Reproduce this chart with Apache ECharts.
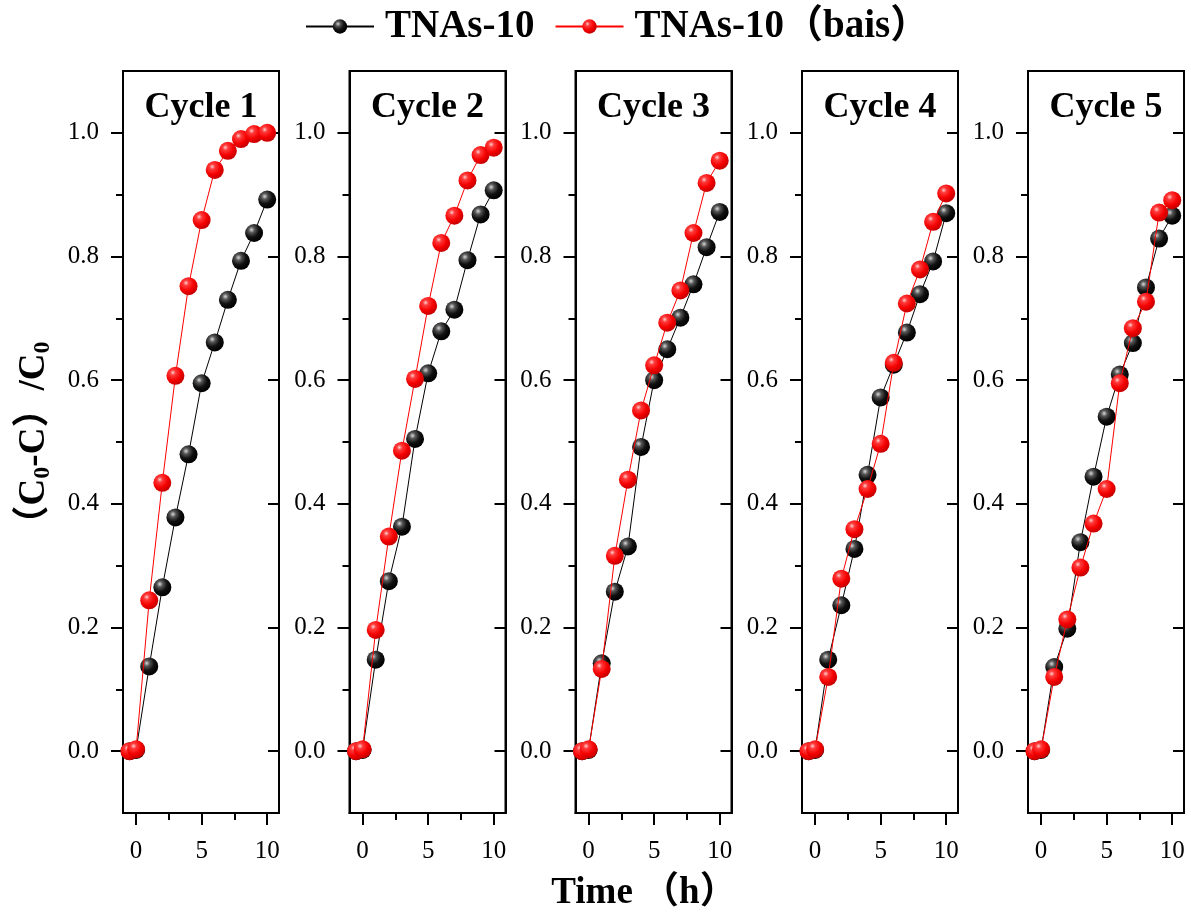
<!DOCTYPE html>
<html>
<head>
<meta charset="utf-8">
<script src="https://cdn.jsdelivr.net/npm/echarts@6/dist/echarts.min.js"></script>
<style>html,body{margin:0;padding:0;background:#fff;}#c{width:1191px;height:912px;}</style>
</head>
<body>
<div id="c"></div>
<script>
const cycleNames = ['Cycle 1', 'Cycle 2', 'Cycle 3', 'Cycle 4', 'Cycle 5'];
const timeH = [-0.5, 0, 1, 2, 3, 4, 5, 6, 7, 8, 9, 10];
const tnas1 = [0, 0.002, 0.137, 0.265, 0.378, 0.480, 0.595, 0.661, 0.730, 0.793, 0.838, 0.892];
const bais1 = [0, 0.003, 0.244, 0.434, 0.607, 0.752, 0.859, 0.940, 0.971, 0.990, 0.998, 1.000];
const tnas2 = [0, 0.002, 0.148, 0.275, 0.363, 0.505, 0.611, 0.679, 0.714, 0.794, 0.868, 0.907];
const bais2 = [0, 0.003, 0.196, 0.347, 0.486, 0.602, 0.720, 0.822, 0.866, 0.923, 0.964, 0.976];
const tnas3 = [0, 0.002, 0.142, 0.258, 0.331, 0.492, 0.600, 0.650, 0.701, 0.755, 0.815, 0.872];
const bais3 = [0, 0.003, 0.133, 0.316, 0.439, 0.551, 0.624, 0.693, 0.745, 0.838, 0.919, 0.955];
const tnas4 = [0, 0.002, 0.148, 0.236, 0.327, 0.447, 0.572, 0.625, 0.677, 0.739, 0.792, 0.870];
const bais4 = [0, 0.003, 0.120, 0.279, 0.359, 0.424, 0.497, 0.628, 0.724, 0.779, 0.856, 0.902];
const tnas5 = [0, 0.002, 0.136, 0.198, 0.338, 0.444, 0.541, 0.609, 0.660, 0.750, 0.829, 0.866];
const bais5 = [0, 0.003, 0.120, 0.213, 0.297, 0.368, 0.424, 0.595, 0.684, 0.727, 0.871, 0.891];
const xMajorTicks = [0, 5, 10];
const xMinorTicks = [2.5, 7.5];
const yMajorTicks = [0, 0.2, 0.4, 0.6, 0.8, 1.0];
const yMinorTicks = [0.1, 0.3, 0.5, 0.7, 0.9];
const seriesNames = ['TNAs-10', 'TNAs-10（bais）'];

const tnasAll = [tnas1, tnas2, tnas3, tnas4, tnas5];
const baisAll = [bais1, bais2, bais3, bais4, bais5];

const SERIF = "'Liberation Serif','Noto Sans CJK SC',serif";
const gridLefts = [123, 349.5, 575.5, 802, 1028];
const gridW = 156, gridTop = 71, gridH = 742;

const blackBall = {type:'radial', x:0.36, y:0.32, r:0.68, colorStops:[
  {offset:0, color:'#d8d8d8'}, {offset:0.25, color:'#555'}, {offset:0.6, color:'#111'}, {offset:1, color:'#000'}]};
const redBall = {type:'radial', x:0.36, y:0.32, r:0.68, colorStops:[
  {offset:0, color:'#ffd0d0'}, {offset:0.22, color:'#ff3b3b'}, {offset:0.65, color:'#f40000'}, {offset:1, color:'#c80000'}]};

const grids = [], xAxes = [], yAxes = [], series = [], graphics = [];
const axLine = {show:true, onZero:false, lineStyle:{color:'#000', width:2}};
for (let i = 0; i < 5; i++) {
  grids.push({left: gridLefts[i], top: gridTop, width: gridW, height: gridH,
    show: true, borderColor: '#000', borderWidth: 2, backgroundColor: 'transparent'});
  xAxes.push({gridIndex:i, type:'value', min:-1, max:10.9, position:'bottom',
    axisLine: axLine,
    axisTick:{show:true, customValues:xMajorTicks, length:12, inside:false, lineStyle:{color:'#000', width:2}},
    axisLabel:{show:true, customValues:xMajorTicks, margin:26, color:'#000', fontFamily:SERIF, fontSize:25},
    splitLine:{show:false}});
  xAxes.push({gridIndex:i, type:'value', min:-1, max:10.9, position:'bottom',
    axisLine:{show:false, onZero:false},
    axisTick:{show:true, customValues:xMinorTicks, length:7, lineStyle:{color:'#000', width:2}},
    axisLabel:{show:false}, splitLine:{show:false}});
  yAxes.push({gridIndex:i, type:'value', min:-0.1, max:1.1, position:'left',
    axisLine: axLine,
    axisTick:{show:true, customValues:yMajorTicks, length:12, lineStyle:{color:'#000', width:2}},
    axisLabel:{show:true, customValues:yMajorTicks, margin:24, color:'#000', fontFamily:SERIF, fontSize:25,
      formatter: v => Number(v).toFixed(1)},
    splitLine:{show:false},
    name: i === 0 ? '（C{s|0}-C）/C{s|0}' : '',
    nameLocation:'middle', nameGap:68, nameRotate:90,
    nameTextStyle:{color:'#000', fontFamily:SERIF, fontWeight:'bold', fontSize:37,
      rich:{s:{fontFamily:SERIF, fontWeight:'bold', fontSize:24, padding:[18,0,0,0]}}}});
  yAxes.push({gridIndex:i, type:'value', min:-0.1, max:1.1, position:'left',
    axisLine:{show:false, onZero:false},
    axisTick:{show:true, customValues:yMinorTicks, length:7, lineStyle:{color:'#000', width:2}},
    axisLabel:{show:false}, splitLine:{show:false}});
  yAxes.push({gridIndex:i, type:'value', min:-0.1, max:1.1, position:'right',
    axisLine: axLine,
    axisTick:{show:true, inside:true, customValues:yMajorTicks, length:11, lineStyle:{color:'#000', width:2}},
    axisLabel:{show:false}, splitLine:{show:false}});

  series.push({name: seriesNames[0], type:'line', xAxisIndex: i*2, yAxisIndex: i*3,
    data: timeH.map((t, k) => [t, tnasAll[i][k]]),
    symbol:'circle', symbolSize:18, showSymbol:true,
    lineStyle:{color:'#000', width:1}, itemStyle:{color: blackBall, borderWidth:0},
    z: 3, animation:false});
  series.push({name: seriesNames[1], type:'line', xAxisIndex: i*2, yAxisIndex: i*3,
    data: timeH.map((t, k) => [t, baisAll[i][k]]),
    symbol:'circle', symbolSize:18, showSymbol:true,
    lineStyle:{color:'#ff0000', width:1}, itemStyle:{color: redBall, borderWidth:0},
    z: 4, animation:false});

  graphics.push({type:'text', x: gridLefts[i] + gridW/2, y: 108,
    style:{text: cycleNames[i], fill:'#000', font: "bold 36px 'Liberation Serif', serif",
      align:'center', verticalAlign:'middle'}});
}
graphics.push({type:'text', x: 644, y: 893,
  style:{text:'Time （h）', fill:'#000', font:"bold 37px 'Liberation Serif','Noto Sans CJK SC', serif",
    align:'center', verticalAlign:'middle'}});

const chart = echarts.init(document.getElementById('c'), null, {renderer:'canvas'});
chart.setOption({
  backgroundColor:'#fff',
  animation:false,
  legend:{data: seriesNames, left: 300, top: 2, itemWidth: 68, itemHeight: 18, itemGap: 20,
    textStyle:{color:'#000', fontFamily:SERIF, fontWeight:'bold', fontSize:39, padding:[0,0,0,6]}},
  grid: grids, xAxis: xAxes, yAxis: yAxes, series: series, graphic: graphics
});
</script>
</body>
</html>
